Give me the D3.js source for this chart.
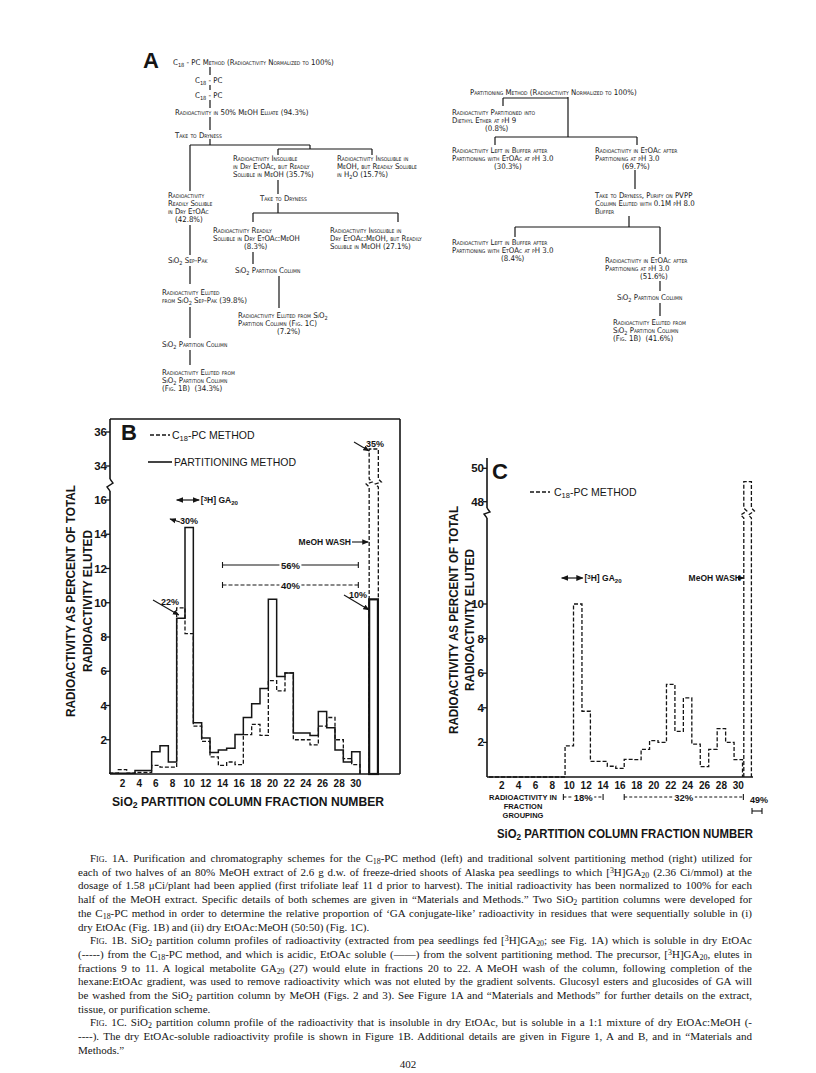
<!DOCTYPE html>
<html>
<head>
<meta charset="utf-8">
<script src="https://cdn.jsdelivr.net/npm/d3@7"></script>
<style>
body { margin: 0; background: #fff; }
</style>
</head>
<body>
<svg id="fig" width="816" height="1073"></svg>
<script>
// ---------- data ----------
var fractionsB = d3.range(1, 31);
var partitioningB = [0.05, 0.05, 0.05, 0.2, 0.2, 1.3, 1.65, 0.7, 9.1, 14.4,
                     3.0, 2.1, 1.25, 1.4, 1.5, 2.3, 3.3, 4.1, 5.0, 10.2,
                     5.7, 5.9, 2.4, 2.4, 2.25, 3.65, 2.7, 1.4, 0.7, 1.3];
var c18B = [0.05, 0.25, 0.05, 0.1, 0.1, 0.5, 0.4, 0.4, 9.7, 8.2,
            2.8, 1.9, 1.0, 0.5, 0.7, 0.55, 2.3, 2.9, 2.25, 5.45,
            4.85, 5.9, 2.0, 2.0, 1.7, 2.8, 3.3, 2.0, 0.9, 0.55];
var washFractionB = 32;
var washC18B = 35;
var washPartitioningB = 10.2;

var fractionsC = d3.range(1, 31);
var c18C = [0, 0, 0, 0, 0, 0, 0, 0, 0, 1.8,
            10.0, 3.8, 0.9, 0.9, 0.62, 0.5, 1.02, 1.0, 1.6, 2.1,
            2.0, 5.35, 2.64, 4.57, 1.9, 0.6, 1.6, 2.8, 2.0, 1.0];
var washFractionC = 31;
var washC18C = 49.2;

var xTickValues = d3.range(2, 31, 2);
var yTicksLowB = [2, 4, 6, 8, 10, 12, 14, 16];
var yTicksHighB = [34, 36];
var yTicksLowC = [2, 4, 6, 8, 10];
var yTicksHighC = [48, 50];

// ---------- helpers ----------
var svg = d3.select("#fig");
var ink = "#151515";
var sans = "'Liberation Sans', Arial, sans-serif";
var serif = "'Liberation Serif', 'Times New Roman', serif";
var flowFont = "'DejaVu Sans Condensed', 'DejaVu Sans', sans-serif";

svg.append("rect").attr("width", 816).attr("height", 1073).attr("fill", "#fff");

var defs = svg.append("defs");
defs.append("marker").attr("id", "arr")
    .attr("viewBox", "0 0 10 10").attr("refX", 9).attr("refY", 5)
    .attr("markerWidth", 6).attr("markerHeight", 6).attr("orient", "auto")
  .append("path").attr("d", "M0,1L10,5L0,9Z").attr("fill", ink);
defs.append("marker").attr("id", "arrStart")
    .attr("viewBox", "0 0 10 10").attr("refX", 1).attr("refY", 5)
    .attr("markerWidth", 6).attr("markerHeight", 6).attr("orient", "auto")
  .append("path").attr("d", "M10,1L0,5L10,9Z").attr("fill", ink);

// text with _{sub} ^{sup} ~{smallcaps}
function rich(sel, str) {
  str.split(/(_\{[^}]*\}|\^\{[^}]*\}|~\{[^}]*\})/).forEach(function(part) {
    if (!part) return;
    var inner = part.slice(2, -1);
    if (part.indexOf("_{") === 0) {
      sel.append("tspan").attr("baseline-shift", "-25%").attr("font-size", "72%").text(inner);
    } else if (part.indexOf("^{") === 0) {
      sel.append("tspan").attr("baseline-shift", "38%").attr("font-size", "72%").text(inner);
    } else if (part.indexOf("~{") === 0) {
      sel.append("tspan").style("font-variant", "small-caps").text(inner);
    } else {
      sel.append("tspan").text(part);
    }
  });
  return sel;
}

function stepPoints(fr, vals, x, y) {
  var pts = [[x(fr[0] - 0.5), y(0)]];
  fr.forEach(function(f, i) {
    pts.push([x(f - 0.5), y(vals[i])]);
    pts.push([x(f + 0.5), y(vals[i])]);
  });
  pts.push([x(fr[fr.length - 1] + 0.5), y(0)]);
  return pts;
}

function seg(g, x1, y1, x2, y2, w, dash) {
  return g.append("line").attr("x1", x1).attr("y1", y1).attr("x2", x2).attr("y2", y2)
    .attr("stroke", ink).attr("stroke-width", w || 1.3)
    .attr("stroke-dasharray", dash || null);
}

// broken bar: lower scale up to yBreakLo, zigzag, upper scale to top
function brokenBar(x0, x1, base, yBreakLo, yBreakHi, top) {
  var z = function(x) {
    return "L" + x + "," + yBreakLo + "L" + (x - 3) + "," + (yBreakLo - 3) +
           "L" + (x + 3) + "," + (yBreakHi + 3) + "L" + x + "," + yBreakHi;
  };
  return "M" + x0 + "," + base + z(x0) + "L" + x0 + "," + top + "L" + x1 + "," + top +
         "L" + x1 + "," + yBreakHi + "L" + (x1 + 3) + "," + (yBreakHi + 3) +
         "L" + (x1 - 3) + "," + (yBreakLo - 3) + "L" + x1 + "," + yBreakLo + "L" + x1 + "," + base;
}

function axisBreak(g, x, yLo, yHi) {
  g.append("path")
    .attr("d", "M" + x + "," + yLo + "L" + (x - 3) + "," + (yLo - 4) + "L" + (x + 3) + "," + (yHi + 4) + "L" + x + "," + yHi)
    .attr("fill", "none").attr("stroke", ink).attr("stroke-width", 1.4);
}

var lineGen = d3.line();

// ---------- panel A: flow schemes ----------
var flow = svg.append("g").attr("font-family", flowFont).attr("font-size", 7.8)
    .style("font-variant", "small-caps").attr("fill", ink);

svg.append("text").attr("x", 143).attr("y", 68).attr("font-family", sans)
  .attr("font-weight", "bold").attr("font-size", 22).attr("fill", ink).text("A");

var flowNodes = [
  { x: 173, y: 64.5, lines: ["C_{18} - PC Method (Radioactivity Normalized to 100%)"] },
  { x: 195, y: 82.5, lines: ["C_{18} - PC"] },
  { x: 195, y: 97.5, lines: ["C_{18} - PC"] },
  { x: 175, y: 114.5, lines: ["Radioactivity in 50% MeOH Eluate (94.3%)"] },
  { x: 175, y: 137.5, lines: ["Take to Dryness"] },
  { x: 233, y: 160.5, lines: ["Radioactivity Insoluble", "in Dry EtOAc, but Readily", "Soluble in MeOH (35.7%)"] },
  { x: 337, y: 160.5, lines: ["Radioactivity Insoluble in", "MeOH, but Readily Soluble", "in H_{2}O (15.7%)"] },
  { x: 168, y: 197.5, lines: ["Radioactivity", "Readily Soluble", "in Dry EtOAc", ["(42.8%)", 7]] },
  { x: 260, y: 200.5, lines: ["Take to Dryness"] },
  { x: 213, y: 232.5, lines: ["Radioactivity Readily", "Soluble in Dry EtOAc:MeOH", ["(8.3%)", 31]] },
  { x: 330, y: 232.5, lines: ["Radioactivity Insoluble in", "Dry EtOAc:MeOH, but Readily", "Soluble in MeOH (27.1%)"] },
  { x: 168, y: 262.5, lines: ["SiO_{2} Sep-Pak"] },
  { x: 162, y: 294.5, lines: ["Radioactivity Eluted", "from SiO_{2} Sep-Pak (39.8%)"] },
  { x: 235, y: 272.5, lines: ["SiO_{2} Partition Column"] },
  { x: 238, y: 317.5, lines: ["Radioactivity Eluted from SiO_{2}", "Partition Column (Fig. 1C)", ["(7.2%)", 39]] },
  { x: 162, y: 346.5, lines: ["SiO_{2} Partition Column"] },
  { x: 162, y: 374.5, lines: ["Radioactivity Eluted from", "SiO_{2} Partition Column", "(Fig. 1B)  (34.3%)"] },
  { x: 470, y: 94.5, lines: ["Partitioning Method (Radioactivity Normalized to 100%)"] },
  { x: 452, y: 114.5, lines: ["Radioactivity Partitioned into", "Diethyl Ether at pH 9", ["(0.8%)", 33]] },
  { x: 452, y: 152.5, lines: ["Radioactivity Left in Buffer after", "Partitioning with EtOAc at pH 3.0", ["(30.3%)", 42]] },
  { x: 595, y: 152.5, lines: ["Radioactivity in EtOAc after", "Partitioning at pH 3.0", ["(69.7%)", 27]] },
  { x: 595, y: 197.5, lines: ["Take to Dryness, Purify on PVPP", "Column Eluted with 0.1M pH 8.0", "Buffer"] },
  { x: 452, y: 244.5, lines: ["Radioactivity Left in Buffer after", "Partitioning with EtOAc at pH 3.0", ["(8.4%)", 49]] },
  { x: 605, y: 262.5, lines: ["Radioactivity in EtOAc after", "Partitioning at pH 3.0", ["(51.6%)", 35]] },
  { x: 617, y: 299.5, lines: ["SiO_{2} Partition Column"] },
  { x: 613, y: 324.5, lines: ["Radioactivity Eluted from", "SiO_{2} Partition Column", "(Fig. 1B)  (41.6%)"] }
];

flowNodes.forEach(function(n) {
  n.lines.forEach(function(l, i) {
    var s = typeof l === "string" ? l : l[0];
    var dx = typeof l === "string" ? 0 : l[1];
    var t = flow.append("text").attr("x", n.x + dx).attr("y", n.y + i * 8.1)
      .attr("xml:space", "preserve");
    rich(t, s);
  });
});

var flowLinks = [
  [210, 67, 210, 75], [210, 85, 210, 90], [210, 100, 210, 108], [210, 117, 210, 130],
  [210, 139, 210, 145], [190, 145, 310, 145], [190, 145, 190, 191],
  [310, 145, 310, 149], [278, 149, 372, 149], [278, 149, 278, 155], [372, 149, 372, 155],
  [278, 180, 278, 194], [278, 203, 278, 213], [253, 213, 398, 213],
  [253, 213, 253, 222], [398, 213, 398, 222],
  [190, 225, 190, 255], [190, 266, 190, 284], [190, 307, 190, 338], [190, 350, 190, 365],
  [253, 252, 253, 264], [279, 276, 279, 308],
  [568, 97, 568, 137], [503, 98, 568, 98], [503, 98, 503, 106],
  [495, 137, 637, 137], [495, 137, 495, 145], [637, 137, 637, 145],
  [635, 170, 635, 189], [629, 216, 629, 227], [515, 227, 660, 227],
  [515, 227, 515, 237], [660, 227, 660, 254], [660, 281, 660, 291], [660, 303, 660, 316]
];
flowLinks.forEach(function(d) { seg(flow, d[0], d[1], d[2], d[3], 1.2); });

// ---------- panel B ----------
var gB = svg.append("g").attr("font-family", sans).attr("fill", ink);
var xB = d3.scaleLinear().domain([0.5, 35.3]).range([110, 400]);
var yB = d3.scaleLinear().domain([0, 16]).range([774, 500]);
var yBHigh = d3.scaleLinear().domain([34, 36]).range([466, 432]);

// frame and axes
seg(gB, 110, 774, 400, 774, 1.6);
seg(gB, 400, 419, 400, 774, 1.6);
seg(gB, 110, 419, 400, 419, 1.6);
seg(gB, 110, 774, 110, 491, 1.6);
axisBreak(gB, 110, 491, 479);
seg(gB, 110, 479, 110, 419, 1.6);

yTicksLowB.forEach(function(v) {
  seg(gB, 106, yB(v), 110, yB(v), 1.3);
  gB.append("text").attr("x", 107).attr("y", yB(v) + 4).attr("text-anchor", "end")
    .attr("font-size", 11.5).attr("font-weight", "bold").text(v);
});
yTicksHighB.forEach(function(v) {
  seg(gB, 106, yBHigh(v), 110, yBHigh(v), 1.3);
  gB.append("text").attr("x", 107).attr("y", yBHigh(v) + 4).attr("text-anchor", "end")
    .attr("font-size", 11.5).attr("font-weight", "bold").text(v);
});
xTickValues.forEach(function(v) {
  gB.append("text").attr("x", xB(v)).attr("y", 787).attr("text-anchor", "middle")
    .attr("font-size", 10).attr("font-weight", "bold").text(v);
});

// histograms
gB.append("path").attr("d", lineGen(stepPoints(fractionsB, c18B, xB, yB)))
  .attr("fill", "none").attr("stroke", ink).attr("stroke-width", 1.3).attr("stroke-dasharray", "4,2");
gB.append("path").attr("d", lineGen(stepPoints(fractionsB, partitioningB, xB, yB)))
  .attr("fill", "none").attr("stroke", ink).attr("stroke-width", 1.5);

// MeOH wash bars
gB.append("path")
  .attr("d", brokenBar(xB(washFractionB - 0.4), xB(washFractionB + 0.7), yB(0), 487, 479, yBHigh(washC18B)))
  .attr("fill", "none").attr("stroke", ink).attr("stroke-width", 1.3).attr("stroke-dasharray", "4,2");
gB.append("rect").attr("x", xB(washFractionB - 0.4)).attr("y", yB(washPartitioningB))
  .attr("width", xB(washFractionB + 0.65) - xB(washFractionB - 0.4))
  .attr("height", yB(0) - yB(washPartitioningB))
  .attr("fill", "none").attr("stroke", ink).attr("stroke-width", 2.2);

// legend and letter
gB.append("text").attr("x", 121).attr("y", 440).attr("font-size", 22).attr("font-weight", "bold").text("B");
seg(gB, 150, 435, 170, 435, 1.4, "4,2");
rich(gB.append("text").attr("x", 172).attr("y", 439).attr("font-size", 10.5), "C_{18}-PC METHOD");
seg(gB, 148, 462, 172, 462, 1.6);
gB.append("text").attr("x", 174).attr("y", 466).attr("font-size", 10.5).text("PARTITIONING METHOD");

// [3H]GA20 arrow
seg(gB, xB(8.5), 500, xB(11.2), 500, 1.2).attr("marker-start", "url(#arrStart)").attr("marker-end", "url(#arr)");
rich(gB.append("text").attr("x", xB(11.4)).attr("y", 503).attr("font-size", 8.5).attr("font-weight", "bold"),
  "[^{3}H] GA_{20}");

// group brackets
function bracket(g, x0, x1, y, label, dash) {
  seg(g, x0, y, x1, y, 1.1, dash);
  seg(g, x0, y - 3, x0, y + 3, 1.1);
  seg(g, x1, y - 3, x1, y + 3, 1.1);
  var w = label.length * 6 + 4;
  g.append("rect").attr("x", (x0 + x1) / 2 - w / 2).attr("y", y - 5).attr("width", w).attr("height", 10).attr("fill", "#fff");
  g.append("text").attr("x", (x0 + x1) / 2).attr("y", y + 3.5).attr("text-anchor", "middle")
    .attr("font-size", 9.5).attr("font-weight", "bold").text(label);
}
bracket(gB, xB(14), xB(30.3), 565, "56%", null);
bracket(gB, xB(14), xB(30.3), 585, "40%", "4,2");

gB.append("text").attr("x", 351).attr("y", 545).attr("text-anchor", "end")
  .attr("font-size", 8.5).attr("font-weight", "bold").text("MeOH WASH");
seg(gB, 352, 542, xB(washFractionB - 0.4) - 1, 542, 1.1).attr("marker-end", "url(#arr)");

// percentage callouts
function callout(g, tx, ty, label, x1, y1, x2, y2) {
  g.append("text").attr("x", tx).attr("y", ty).attr("font-size", 9).attr("font-weight", "bold").text(label);
  seg(g, x1, y1, x2, y2, 1.1).attr("marker-end", "url(#arr)");
}
callout(gB, 366, 447, "35%", 354, 442, xB(washFractionB - 0.4), 451);
callout(gB, 349, 598, "10%", 344, 595, xB(washFractionB - 0.4), 610);
callout(gB, 180, 524, "30%", 180, 522, 170, 519);
callout(gB, 161, 605, "22%", 153, 600, xB(9) - 2, 615);

// axis titles
gB.append("text").attr("transform", "translate(75,601) rotate(-90)").attr("text-anchor", "middle")
  .attr("font-size", 12.5).attr("font-weight", "bold").attr("textLength", 232).attr("lengthAdjust", "spacingAndGlyphs")
  .text("RADIOACTIVITY AS PERCENT OF TOTAL");
gB.append("text").attr("transform", "translate(92,601) rotate(-90)").attr("text-anchor", "middle")
  .attr("font-size", 12.5).attr("font-weight", "bold").attr("textLength", 142).attr("lengthAdjust", "spacingAndGlyphs")
  .text("RADIOACTIVITY ELUTED");
rich(gB.append("text").attr("x", 112).attr("y", 806).attr("font-size", 12).attr("font-weight", "bold")
  .attr("textLength", 272).attr("lengthAdjust", "spacingAndGlyphs"), "SiO_{2} PARTITION COLUMN FRACTION NUMBER");

// ---------- panel C ----------
var gC = svg.append("g").attr("font-family", sans).attr("fill", ink);
var xC = d3.scaleLinear().domain([0.5, 32]).range([489, 755.2]);
var yC = d3.scaleLinear().domain([0, 10]).range([777, 604]);
var yCHigh = d3.scaleLinear().domain([48, 50]).range([501.7, 468.3]);

seg(gC, 487, 777, 753, 777, 1.6);
seg(gC, 487, 777, 487, 518, 1.6);
axisBreak(gC, 487, 518, 508);
seg(gC, 487, 508, 487, 458, 1.6);

yTicksLowC.forEach(function(v) {
  seg(gC, 483, yC(v), 487, yC(v), 1.3);
  gC.append("text").attr("x", 484).attr("y", yC(v) + 4).attr("text-anchor", "end")
    .attr("font-size", 11.5).attr("font-weight", "bold").text(v);
});
yTicksHighC.forEach(function(v) {
  seg(gC, 483, yCHigh(v), 487, yCHigh(v), 1.3);
  gC.append("text").attr("x", 484).attr("y", yCHigh(v) + 4).attr("text-anchor", "end")
    .attr("font-size", 11.5).attr("font-weight", "bold").text(v);
});
xTickValues.forEach(function(v) {
  gC.append("text").attr("x", xC(v)).attr("y", 789).attr("text-anchor", "middle")
    .attr("font-size", 10).attr("font-weight", "bold").text(v);
});

gC.append("path").attr("d", lineGen(stepPoints(fractionsC, c18C, xC, yC)))
  .attr("fill", "none").attr("stroke", ink).attr("stroke-width", 1.3).attr("stroke-dasharray", "4,2");
gC.append("path")
  .attr("d", brokenBar(xC(washFractionC - 0.35), xC(washFractionC + 0.55), yC(0), 518, 508, yCHigh(washC18C)))
  .attr("fill", "none").attr("stroke", ink).attr("stroke-width", 1.3).attr("stroke-dasharray", "4,2");

gC.append("text").attr("x", 492).attr("y", 479).attr("font-size", 22).attr("font-weight", "bold").text("C");
seg(gC, 530, 492, 550, 492, 1.4, "4,2");
rich(gC.append("text").attr("x", 554).attr("y", 496).attr("font-size", 10.5), "C_{18}-PC METHOD");

seg(gC, xC(9.1), 578, xC(11.6), 578, 1.2).attr("marker-start", "url(#arrStart)").attr("marker-end", "url(#arr)");
rich(gC.append("text").attr("x", xC(11.8)).attr("y", 581).attr("font-size", 8.5).attr("font-weight", "bold"),
  "[^{3}H] GA_{20}");

gC.append("text").attr("x", 741).attr("y", 581).attr("text-anchor", "end")
  .attr("font-size", 8.5).attr("font-weight", "bold").text("MeOH WASH");
seg(gC, 741, 578, xC(washFractionC - 0.35), 578, 1.1).attr("marker-end", "url(#arr)");

// fraction grouping row
gC.append("text").attr("x", 523).attr("y", 800).attr("text-anchor", "middle")
  .attr("font-size", 7.5).attr("font-weight", "bold").text("RADIOACTIVITY IN");
gC.append("text").attr("x", 523).attr("y", 809).attr("text-anchor", "middle")
  .attr("font-size", 7.5).attr("font-weight", "bold").text("FRACTION");
gC.append("text").attr("x", 523).attr("y", 818).attr("text-anchor", "middle")
  .attr("font-size", 7.5).attr("font-weight", "bold").text("GROUPING");
bracket(gC, xC(9.3), xC(14), 797, "18%", "3,2");
bracket(gC, xC(16.5), xC(30.6), 797, "32%", "3,2");
gC.append("text").attr("x", 750).attr("y", 803).attr("font-size", 9).attr("font-weight", "bold").text("49%");
seg(gC, 752, 811, 762, 811, 1.1);
seg(gC, 752, 808, 752, 814, 1.1);
seg(gC, 762, 808, 762, 814, 1.1);

gC.append("text").attr("transform", "translate(458,620) rotate(-90)").attr("text-anchor", "middle")
  .attr("font-size", 12.5).attr("font-weight", "bold").attr("textLength", 228).attr("lengthAdjust", "spacingAndGlyphs")
  .text("RADIOACTIVITY AS PERCENT OF TOTAL");
gC.append("text").attr("transform", "translate(474,620) rotate(-90)").attr("text-anchor", "middle")
  .attr("font-size", 12.5).attr("font-weight", "bold").attr("textLength", 142).attr("lengthAdjust", "spacingAndGlyphs")
  .text("RADIOACTIVITY ELUTED");
rich(gC.append("text").attr("x", 497).attr("y", 838).attr("font-size", 12).attr("font-weight", "bold")
  .attr("textLength", 256).attr("lengthAdjust", "spacingAndGlyphs"), "SiO_{2} PARTITION COLUMN FRACTION NUMBER");

// ---------- caption ----------
var captionLines = [
  ["~{Fig.} 1A. Purification and chromatography schemes for the C_{18}-PC method (left) and traditional solvent partitioning method (right) utilized for", true, true],
  ["each of two halves of an 80% MeOH extract of 2.6 g d.w. of freeze-dried shoots of Alaska pea seedlings to which [^{3}H]GA_{20} (2.36 Ci/mmol) at the", false, true],
  ["dosage of 1.58 \u03bcCi/plant had been applied (first trifoliate leaf 11 d prior to harvest). The initial radioactivity has been normalized to 100% for each", false, true],
  ["half of the MeOH extract. Specific details of both schemes are given in \u201cMaterials and Methods.\u201d Two SiO_{2} partition columns were developed for", false, true],
  ["the C_{18}-PC method in order to determine the relative proportion of \u2018GA conjugate-like\u2019 radioactivity in residues that were sequentially soluble in (i)", false, true],
  ["dry EtOAc (Fig. 1B) and (ii) dry EtOAc:MeOH (50:50) (Fig. 1C).", false, false],
  ["~{Fig.} 1B. SiO_{2} partition column profiles of radioactivity (extracted from pea seedlings fed [^{3}H]GA_{20}; see Fig. 1A) which is soluble in dry EtOAc", true, true],
  ["(-----) from the C_{18}-PC method, and which is acidic, EtOAc soluble (\u2014\u2014) from the solvent partitioning method. The precursor, [^{3}H]GA_{20}, elutes in", false, true],
  ["fractions 9 to 11. A logical metabolite GA_{29} (27) would elute in fractions 20 to 22. A MeOH wash of the column, following completion of the", false, true],
  ["hexane:EtOAc gradient, was used to remove radioactivity which was not eluted by the gradient solvents. Glucosyl esters and glucosides of GA will", false, true],
  ["be washed from the SiO_{2} partition column by MeOH (Figs. 2 and 3). See Figure 1A and \u201cMaterials and Methods\u201d for further details on the extract,", false, true],
  ["tissue, or purification scheme.", false, false],
  ["~{Fig.} 1C. SiO_{2} partition column profile of the radioactivity that is insoluble in dry EtOAc, but is soluble in a 1:1 mixture of dry EtOAc:MeOH (-", true, true],
  ["----). The dry EtOAc-soluble radioactivity profile is shown in Figure 1B. Additional details are given in Figure 1, A and B, and in \u201cMaterials and", false, true],
  ["Methods.\u201d", false, false]
];
var cap = svg.append("g").attr("font-family", serif).attr("font-size", 11).attr("fill", ink);
var capLeft = 78, capRight = 752, capTop = 862, capStep = 13.7;
captionLines.forEach(function(l, i) {
  var x0 = capLeft + (l[1] ? 12 : 0);
  var t = cap.append("text").attr("x", x0).attr("y", capTop + i * capStep);
  rich(t, l[0]);
  if (l[2]) {
    var w = t.node().getComputedTextLength();
    var spaces = (l[0].match(/ /g) || []).length;
    if (spaces) t.attr("word-spacing", (capRight - x0 - w) / spaces);
  }
});
svg.append("text").attr("x", 408).attr("y", 1068).attr("text-anchor", "middle")
  .attr("font-family", serif).attr("font-size", 11).attr("fill", ink).text("402");
</script>
</body>
</html>
